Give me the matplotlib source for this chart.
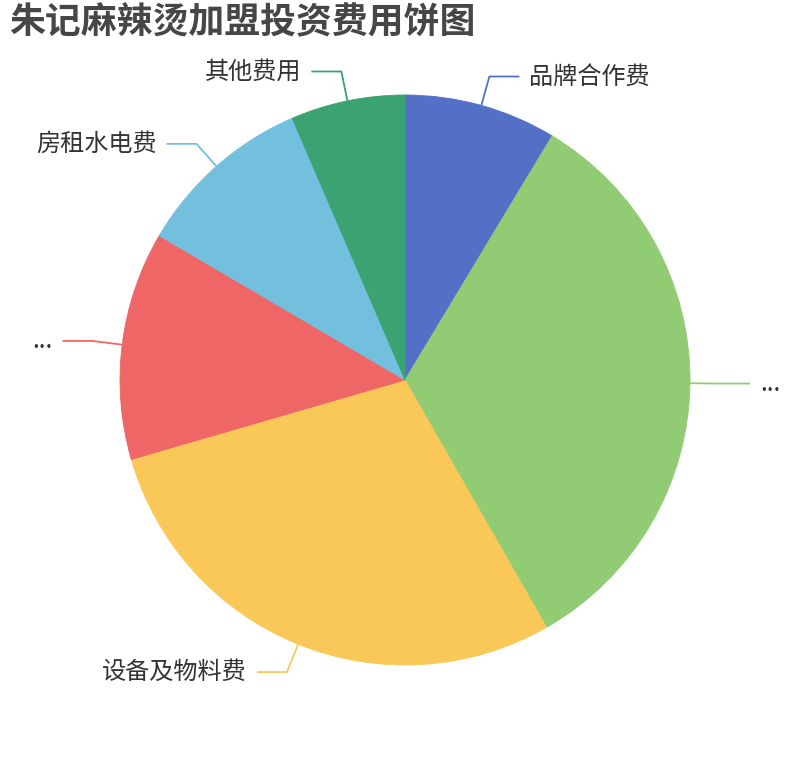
import numpy as np
import matplotlib
matplotlib.use("Agg")
import matplotlib.pyplot as plt

plt.rcParams['font.family'] = ['Noto Sans CJK SC', 'DejaVu Sans']

title = "朱记麻辣烫加盟投资费用饼图"
labels = ['品牌合作费', '...', '设备及物料费', '...', '房租水电费', '其他费用']
values = [3.0, 11.5, 10.0, 4.5, 3.5, 2.25]
colors = ['#5470c6', '#91cc75', '#fac858', '#ee6666', '#73c0de', '#3ba272']

W, H = 810, 760
fig = plt.figure(figsize=(W / 100, H / 100), dpi=100)
ax = fig.add_axes([0, 0, 1, 1])
ax.set_xlim(0, W)
ax.set_ylim(0, H)
ax.set_aspect('equal')
ax.axis('off')

cx, cy, R = 405, 380, 285
ax.pie(values, colors=colors, startangle=90, counterclock=False,
       radius=R, center=(cx, cy), frame=True,
       wedgeprops=dict(linewidth=0.6, edgecolor=None))
for w, c in zip(ax.patches, colors):
    w.set_edgecolor(c)
ax.set_xlim(0, W)
ax.set_ylim(0, H)
ax.axis('off')

vals = np.array(values, dtype=float)
cum = np.concatenate([[0], np.cumsum(vals)]) / vals.sum() * 360.0
len1, len2, gap = 30, 30, 10
for i, (lab, col) in enumerate(zip(labels, colors)):
    mid = np.deg2rad((cum[i] + cum[i + 1]) / 2)
    s, c = np.sin(mid), np.cos(mid)
    x0, y0 = cx + R * s, cy + R * c
    x1, y1 = cx + (R + len1) * s, cy + (R + len1) * c
    side = 1 if s >= 0 else -1
    x2 = x1 + side * len2
    ax.plot([x0, x1, x2], [y0, y1, y1], color=col, lw=1.3, solid_capstyle='butt')
    ax.text(x2 + side * gap, y1, lab, ha='left' if side > 0 else 'right',
            va='center', fontsize=17.4, color='#333333')

fig.text(9 / W, 1 - 23 / H, title, ha='left', va='center', fontsize=25.8,
         fontweight='bold', color='#464646')

fig.savefig('out.png', dpi=100, facecolor='white')
